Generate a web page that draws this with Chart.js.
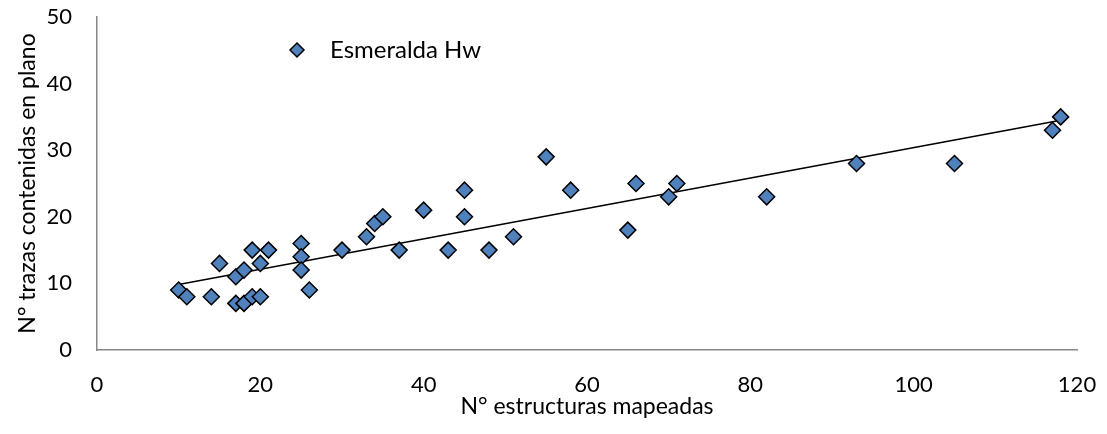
<!DOCTYPE html>
<html>
<head>
<meta charset="utf-8">
<script src="https://cdn.jsdelivr.net/npm/chart.js@4.4.0/dist/chart.umd.min.js"></script>
<style>
  html, body { margin: 0; padding: 0; background: #fff; }
  #wrap { width: 1107px; height: 434px; }
</style>
</head>
<body>
<div id="wrap"><canvas id="chart" width="1107" height="434"></canvas></div>
<script>
// Datos
const seriesName = 'Esmeralda Hw';
const estructuras = [10, 11, 14, 15, 17, 17, 18, 18, 19, 19, 20, 20, 21, 25, 25, 25, 26, 30, 33, 34, 35, 37, 40, 43, 45, 45, 48, 51, 55, 58, 65, 66, 70, 71, 82, 93, 105, 117, 118];
const trazas      = [ 9,  8,  8, 13, 11,  7, 12,  7, 15,  8, 13,  8, 15, 16, 14, 12,  9, 15, 17, 19, 20, 15, 21, 15, 24, 20, 15, 17, 29, 24, 18, 25, 23, 25, 23, 28, 28, 33, 35];
const xTicks = [0, 20, 40, 60, 80, 100, 120];
const yTicks = [0, 10, 20, 30, 40, 50];

const FONT = 'Lato, "Open Sans", sans-serif';

// Puntos del gráfico
const points = estructuras.map((x, i) => ({ x: x, y: trazas[i] }));

// Línea de tendencia (mínimos cuadrados)
function trendLine(xs, ys) {
    const n = xs.length;
    let sx = 0, sy = 0, sxx = 0, sxy = 0;
    for (let i = 0; i < n; i++) {
        sx += xs[i]; sy += ys[i];
        sxx += xs[i] * xs[i]; sxy += xs[i] * ys[i];
    }
    const m = (n * sxy - sx * sy) / (n * sxx - sx * sx);
    const b = (sy - m * sx) / n;
    const x0 = Math.min(...xs), x1 = Math.max(...xs);
    return [{ x: x0, y: m * x0 + b }, { x: x1, y: m * x1 + b }];
}

// Leyenda dibujada dentro del área
const insideLegend = {
    id: 'insideLegend',
    afterDraw(chart) {
        const ctx = chart.ctx;
        const cx = 297, cy = 50, r = 7;
        ctx.save();
        ctx.beginPath();
        ctx.moveTo(cx, cy - r);
        ctx.lineTo(cx + r, cy);
        ctx.lineTo(cx, cy + r);
        ctx.lineTo(cx - r, cy);
        ctx.closePath();
        ctx.fillStyle = '#4F81BD';
        ctx.fill();
        ctx.lineWidth = 1.5;
        ctx.strokeStyle = '#000';
        ctx.stroke();
        ctx.fillStyle = '#000';
        ctx.font = '24px ' + FONT;
        ctx.textBaseline = 'middle';
        ctx.fillText(seriesName, 330, cy);
        ctx.restore();
    }
};

new Chart(document.getElementById('chart'), {
    type: 'scatter',
    data: {
        datasets: [
            {
                label: seriesName,
                data: points,
                pointStyle: 'rectRot',
                pointRadius: 8,
                pointHoverRadius: 8,
                backgroundColor: '#4F81BD',
                borderColor: '#000',
                borderWidth: 1.5,
                order: 1
            },
            {
                label: 'Tendencia',
                type: 'line',
                data: trendLine(estructuras, trazas),
                borderColor: '#000',
                borderWidth: 1.6,
                pointRadius: 0,
                fill: false,
                order: 2
            }
        ]
    },
    options: {
        responsive: false,
        animation: false,
        layout: { padding: { top: 17, right: 30, left: 0, bottom: 14 } },
        plugins: {
            legend: { display: false },
            tooltip: { enabled: false }
        },
        scales: {
            x: {
                type: 'linear',
                min: 0, max: 120,
                afterBuildTicks: (axis) => { axis.ticks = xTicks.map(v => ({ value: v })); },
                // marcas invisibles: sólo desplazan las etiquetas
                grid: { display: false, drawTicks: true, tickLength: 18 },
                border: { display: true, color: '#868686', width: 1.5 },
                ticks: { color: '#000', font: { family: FONT, size: 22 }, padding: 4 },
                title: {
                    display: true,
                    text: 'N° estructuras mapeadas',
                    color: '#000',
                    font: { family: FONT, size: 23 },
                    padding: { top: 0, bottom: 0 }
                },
                afterFit: (axis) => { axis.height = 70; }
            },
            y: {
                type: 'linear',
                min: 0, max: 50,
                afterBuildTicks: (axis) => { axis.ticks = yTicks.map(v => ({ value: v })); },
                grid: { display: false, drawTicks: true, tickLength: 22 },
                border: { display: true, color: '#868686', width: 1.5 },
                ticks: { color: '#000', font: { family: FONT, size: 22 }, padding: 3 },
                title: {
                    display: true,
                    text: 'N° trazas contenidas en plano',
                    color: '#000',
                    font: { family: FONT, size: 23 },
                    padding: { top: 14, bottom: 0 }
                },
                afterFit: (axis) => { axis.width = 97; }
            }
        }
    },
    plugins: [insideLegend]
});
</script>
</body>
</html>
